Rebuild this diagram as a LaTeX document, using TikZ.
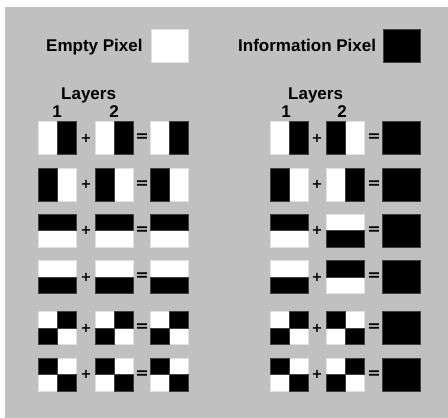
\documentclass[tikz,border=0pt]{standalone}
\usepackage{fontspec}
\setmainfont{Liberation Sans}
\newfontfamily\symfont{DejaVu Sans}
\definecolor{bggray}{RGB}{192,192,192}
\definecolor{edgedark}{RGB}{64,64,64}
\definecolor{edgelight}{RGB}{225,225,225}
\tikzset{
  tilebox/.style={rectangle,inner sep=0pt,outer sep=0pt,minimum width=38pt,minimum height=33pt,fill=white,draw=edgelight,line width=0.6pt},
  blk/.style={fill=black,draw=edgedark,line width=0.6pt},
  lbl/.style={inner sep=0pt,font=\fontsize{17}{20}\selectfont\bfseries,anchor=base west},
  dig/.style={inner sep=0pt,font=\fontsize{17}{20}\selectfont\bfseries,anchor=base},
  plussign/.style={inner sep=0pt,font=\symfont\fontsize{13}{16}\selectfont\bfseries},
  eqsign/.style={inner sep=0pt,font=\symfont\fontsize{16}{19}\selectfont\bfseries},
}
\newcommand\patR[1]{\draw[blk] (#1.north) rectangle (#1.south east);}
\newcommand\patL[1]{\draw[blk] (#1.north west) rectangle (#1.south);}
\newcommand\patT[1]{\draw[blk] (#1.north west) rectangle (#1.east);}
\newcommand\patB[1]{\draw[blk] (#1.west) rectangle (#1.south east);}
\newcommand\patD[1]{\draw[blk] (#1.north) rectangle (#1.east); \draw[blk] (#1.west) rectangle (#1.south);}
\newcommand\patE[1]{\draw[blk] (#1.north west) rectangle (#1.center); \draw[blk] (#1.center) rectangle (#1.south east);}
\newcommand\patF[1]{\draw[blk] (#1.north west) rectangle (#1.south east);}
\newcommand\tile[4]{\node[tilebox] (#1) at (#2,#3) {}; \csname pat#4\endcsname{#1}}
\begin{document}
\begin{tikzpicture}[x=1pt,y=-1pt]
\useasboundingbox (0,0) rectangle (448,418);
\fill[white] (0,0) rectangle (448,418);
\fill[bggray] (5,7) rectangle (448,418);
% legend
\node[lbl] (emptylbl) at (46,51) {Empty Pixel};
\node[tilebox,minimum width=37pt] (emptypx) at (169.5,45.5) {};
\node[lbl] (infolbl) at (238,51) {Information Pixel};
\node[tilebox,minimum width=37pt] (infopx) at (402,45.5) {};
\patF{infopx}
% headers
\node[lbl] (layL) at (61,99) {Layers};
\node[dig] (oneL) at (57,117) {1};
\node[dig] (twoL) at (114,117) {2};
\node[lbl] (layR) at (288,99) {Layers};
\node[dig] (oneR) at (286,117) {1};
\node[dig] (twoR) at (342,117) {2};
% rows
\foreach \r/\y/\a/\b/\c/\d in {1/138/R/R/R/L, 2/184.5/L/L/L/R, 3/230.5/T/T/T/B, 4/277/B/B/B/T, 5/328/D/D/D/E, 6/374.5/E/E/E/D}{
  \tile{la\r}{57}{\y}{\a}
  \node[plussign] (lp\r) at (86,\y) {+};
  \tile{lb\r}{114}{\y}{\b}
  \node[eqsign] (le\r) at (142,\y) {=};
  \tile{lc\r}{169.5}{\y}{\c}
  \tile{ra\r}{289.5}{\y}{\a}
  \node[plussign] (rp\r) at (317,\y) {+};
  \tile{rb\r}{345}{\y}{\d}
  \node[eqsign] (re\r) at (374,\y) {=};
  \tile{rc\r}{401.5}{\y}{F}
}
\end{tikzpicture}
\end{document}
